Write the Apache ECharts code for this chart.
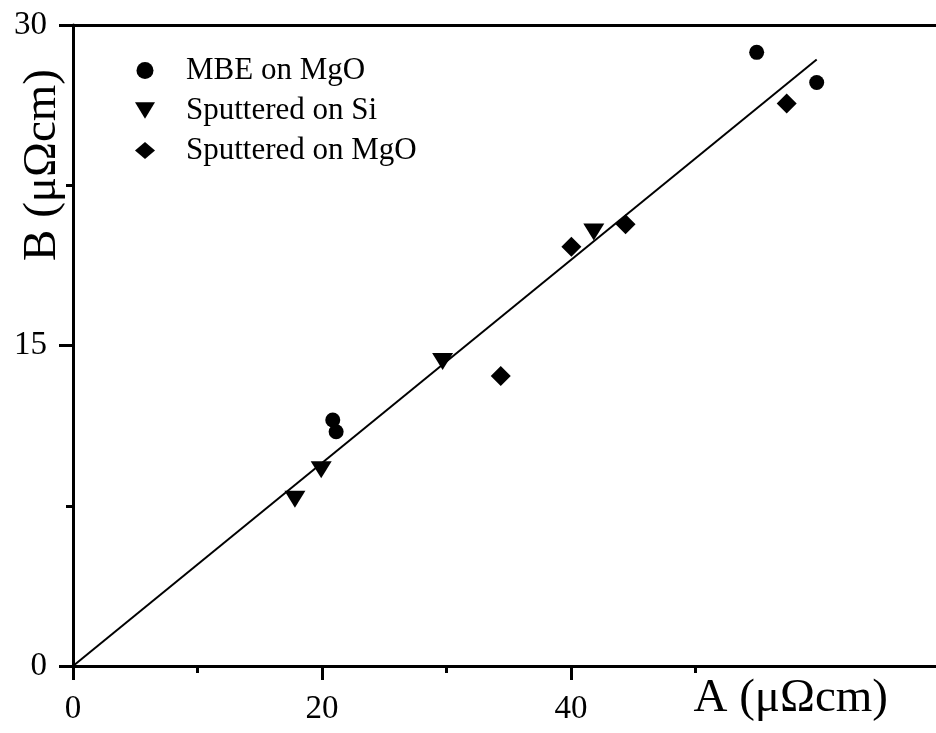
<!DOCTYPE html>
<html>
<head>
<meta charset="utf-8">
<script src="https://cdn.jsdelivr.net/npm/echarts@6/dist/echarts.min.js"></script>
<style>
  html, body { margin: 0; padding: 0; background: #fff; }
  #chart { width: 936px; height: 733px; }
</style>
</head>
<body>
<div id="chart"></div>
<script>
// data
const mbeOnMgO = [[20.86, 11.51], [21.13, 10.96], [54.9, 28.72], [59.72, 27.31]];
const sputteredOnSi = [[17.82, 7.81], [19.93, 9.19], [29.68, 14.25], [41.82, 20.31]];
const sputteredOnMgO = [[34.35, 13.57], [40.02, 19.62], [44.37, 20.67], [57.31, 26.33]];
const fitLine = [[0, 0], [59.72, 28.39]];
const xMajorTicks = [0, 20, 40];
const xMinorTicks = [10, 30, 50];
const seriesNames = ['MBE on MgO', 'Sputtered on Si', 'Sputtered on MgO'];

const font = "'Times New Roman', 'Liberation Serif', serif";
const downTriangle = 'path://M0,0 L24,0 L12,20 Z';
const chart = echarts.init(document.getElementById('chart'));

const option = {
  backgroundColor: '#fff',
  animation: false,
  grid: { left: 73, right: 0, top: 25, bottom: 67 },
  legend: {
    data: [
      { name: seriesNames[0], icon: 'circle' },
      { name: seriesNames[1], icon: downTriangle },
      { name: seriesNames[2], icon: 'diamond' }
    ],
    orient: 'vertical',
    left: 130,
    top: 50,
    itemWidth: 20,
    itemHeight: 17,
    itemGap: 9,
    textStyle: { fontFamily: font, fontSize: 31, color: '#000', padding: [0, 0, 0, 26] }
  },
  xAxis: [
    {
      type: 'value', min: 0, max: 69.3, interval: 10,
      position: 'bottom',
      splitLine: { show: false },
      axisLine: { lineStyle: { color: '#000', width: 3 } },
      axisTick: { customValues: xMajorTicks, length: 14, lineStyle: { color: '#000', width: 3 } },
      axisLabel: { customValues: xMajorTicks, margin: 27, fontFamily: font, fontSize: 33, color: '#000' },
      name: 'A (\u03bc\u03a9cm)',
      nameLocation: 'end',
      nameGap: -48,
      nameTextStyle: {
        fontFamily: font, fontSize: 47, color: '#000',
        align: 'right', verticalAlign: 'top', lineHeight: 66
      }
    },
    {
      type: 'value', min: 0, max: 69.3, interval: 10,
      position: 'top',
      splitLine: { show: false },
      axisLine: { show: true, lineStyle: { color: '#000', width: 3 } },
      axisTick: { show: false },
      axisLabel: { show: false }
    },
    {
      type: 'value', min: 0, max: 69.3, interval: 10,
      position: 'bottom',
      splitLine: { show: false },
      axisLine: { show: false },
      axisTick: { customValues: xMinorTicks, length: 7, lineStyle: { color: '#000', width: 3 } },
      axisLabel: { show: false }
    }
  ],
  yAxis: {
    type: 'value', min: 0, max: 30, interval: 15,
    splitLine: { show: false },
    axisLine: { show: true, lineStyle: { color: '#000', width: 3 } },
    axisTick: { length: 14, lineStyle: { color: '#000', width: 3 } },
    minorTick: { show: true, splitNumber: 2, length: 7, lineStyle: { color: '#000', width: 3 } },
    axisLabel: { margin: 26, fontFamily: font, fontSize: 33, color: '#000' },
    name: 'B (\u03bc\u03a9cm)',
    nameLocation: 'end',
    nameRotate: 90,
    nameGap: -44,
    nameTextStyle: {
      fontFamily: font, fontSize: 47, color: '#000',
      align: 'right', verticalAlign: 'bottom', padding: [0, 0, 7, 0]
    }
  },
  series: [
    {
      name: 'fit',
      type: 'line',
      data: fitLine,
      showSymbol: false,
      lineStyle: { color: '#000', width: 2 },
      z: 1
    },
    {
      name: seriesNames[0],
      type: 'scatter',
      data: mbeOnMgO,
      symbol: 'circle',
      symbolSize: 15,
      itemStyle: { color: '#000', opacity: 1 },
      z: 3
    },
    {
      name: seriesNames[1],
      type: 'scatter',
      data: sputteredOnSi,
      symbol: 'triangle',
      symbolRotate: 180,
      symbolSize: [21, 17],
      itemStyle: { color: '#000', opacity: 1 },
      z: 3
    },
    {
      name: seriesNames[2],
      type: 'scatter',
      data: sputteredOnMgO,
      symbol: 'diamond',
      symbolSize: [20, 20],
      itemStyle: { color: '#000', opacity: 1 },
      z: 3
    }
  ]
};

chart.setOption(option);
</script>
</body>
</html>
